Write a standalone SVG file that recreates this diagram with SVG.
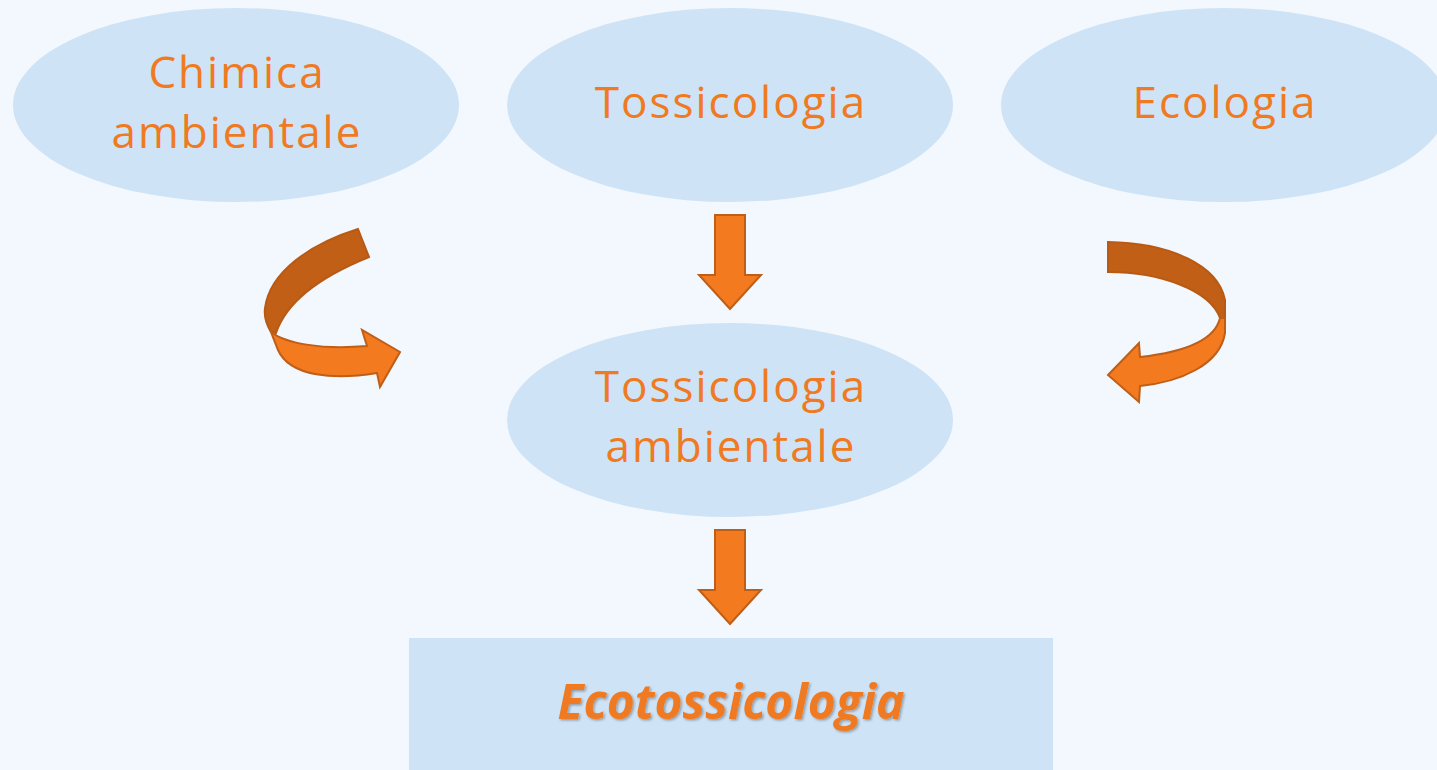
<svg xmlns="http://www.w3.org/2000/svg" width="1437" height="770" viewBox="0 0 1437 770">
<defs>
<style>
.node{fill:#CFE3F6;}
.lbl{font-family:"Open Sans","DejaVu Sans",sans-serif;font-size:44px;letter-spacing:2px;fill:#F07A21;text-anchor:middle;}
.arrow{fill:#F37A1F;stroke:#BF5E16;stroke-width:2;stroke-linejoin:miter;}
.dark{fill:#C25F16;stroke:#B85A14;stroke-width:2;}
</style>
<filter id="sh" x="-10%" y="-20%" width="120%" height="140%">
<feDropShadow dx="1.5" dy="1.5" stdDeviation="1" flood-color="#000" flood-opacity="0.3"/>
</filter>
</defs>
<rect width="1437" height="770" fill="#F2F8FE"/>
<g id="chimica">
<ellipse class="node" cx="236" cy="105" rx="223" ry="97"/>
<text class="lbl" x="237" y="88">Chimica</text>
<text class="lbl" x="237" y="148">ambientale</text>
</g>
<g id="tossicologia">
<ellipse class="node" cx="730" cy="105" rx="223" ry="97"/>
<text class="lbl" x="731" y="118">Tossicologia</text>
</g>
<g id="ecologia">
<ellipse class="node" cx="1224" cy="105" rx="223" ry="97"/>
<text class="lbl" x="1225" y="118">Ecologia</text>
</g>
<g id="tossicologia-ambientale">
<ellipse class="node" cx="730" cy="420" rx="223" ry="97"/>
<text class="lbl" x="731" y="402">Tossicologia</text>
<text class="lbl" x="731" y="462">ambientale</text>
</g>
<g id="ecotossicologia">
<rect class="node" x="409" y="638" width="644" height="132"/>
<text x="731" y="719" filter="url(#sh)" style="font-family:'Open Sans','DejaVu Sans',sans-serif;font-size:48px;font-weight:bold;font-style:italic;fill:#F07A21;text-anchor:middle;">Ecotossicologia</text>
</g>
<g id="connectors">
<path class="arrow" d="M715,215 L745,215 L745,275 L761,275 L730,309 L699,275 L715,275 Z"/>
<path class="arrow" d="M715,530 L745,530 L745,590 L761,590 L730,624 L699,590 L715,590 Z"/>
<path class="dark" d="M358,229 L369,257 C322,276 287,300 276,333 L271,332 C266,324 264,316 265,308 C270,272 310,244 358,229 Z"/>
<path class="arrow" d="M271,332 C285,343 320,350 367,346 L362,330 L400,352 L380,387 L377,373 C335,380 290,377 278,350 Z"/>
<path class="dark" d="M1108,242 C1170,243 1218,265 1225,300 L1225,318 L1220,318 C1210,290 1160,272 1108,272 Z"/>
<path class="arrow" d="M1220,318 L1225,318 L1225,333 C1220,365 1180,382 1140,386 L1139,402 L1108,375 L1139,343 L1140,357 C1185,352 1215,340 1220,318 Z"/>
</g>
</svg>
